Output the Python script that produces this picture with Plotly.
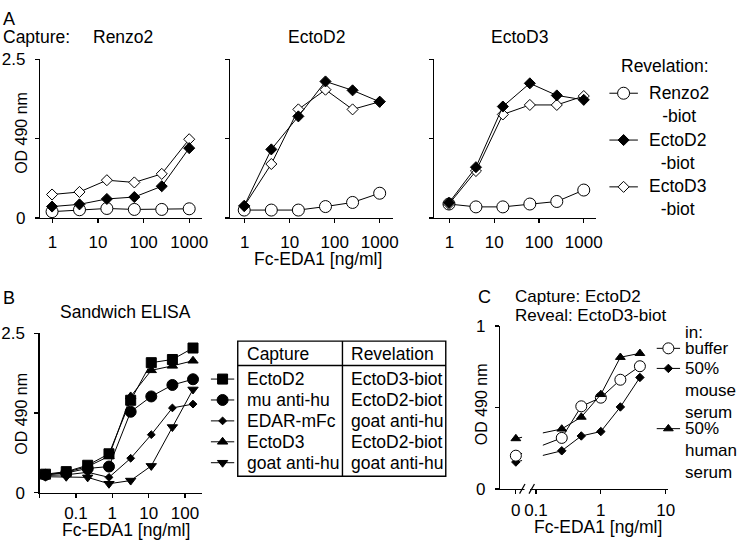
import plotly.graph_objects as go

W, H = 745, 549
FONT = "Liberation Sans, Arial, Helvetica, sans-serif"


def px(x):
    return x / W


def py(y):
    return 1 - y / H


# ---------------- data ----------------
# Panel A: capture antibody per sub-panel, revelation antibody per series
A_CAPTURES = ["Renzo2", "EctoD2", "EctoD3"]
A_REVEALS = ["Renzo2", "EctoD2", "EctoD3"]
A_CONC = [0.977, 3.91, 15.6, 62.5, 250, 1000]          # Fc-EDA1 ng/ml
A_X_TICKS = [1, 10, 100, 1000]
A_X_LABELS = ["1", "10", "100", "1000"]

# capture Renzo2
A_R2_REV_R2 = [0.10, 0.13, 0.15, 0.135, 0.135, 0.145]
A_R2_REV_D2 = [0.18, 0.215, 0.30, 0.33, 0.50, 1.10]
A_R2_REV_D3 = [0.37, 0.41, 0.595, 0.56, 0.695, 1.24]
# capture EctoD2
A_D2_REV_R2 = [0.125, 0.125, 0.125, 0.18, 0.245, 0.39]
A_D2_REV_D2 = [0.19, 1.08, 1.60, 2.15, 2.01, 1.83]
A_D2_REV_D3 = [0.19, 0.85, 1.71, 2.02, 1.71, 1.83]
# capture EctoD3
A_D3_REV_R2 = [0.22, 0.175, 0.175, 0.22, 0.26, 0.44]
A_D3_REV_D2 = [0.24, 0.80, 1.755, 2.12, 1.93, 1.86]
A_D3_REV_D3 = [0.22, 0.74, 1.63, 1.78, 1.78, 1.92]

A_VALUES = [
    [A_R2_REV_R2, A_R2_REV_D2, A_R2_REV_D3],
    [A_D2_REV_R2, A_D2_REV_D2, A_D2_REV_D3],
    [A_D3_REV_R2, A_D3_REV_D2, A_D3_REV_D3],
]
A_Y_TICKS = [0, 1.25, 2.5]
A_Y_LABELS = ["0", "", "2.5"]

# Panel B: sandwich ELISA
B_CONC = [0.0145, 0.054, 0.21, 0.81, 3.2, 11.8, 45, 166]
B_CAPTURE = ["EctoD2", "mu anti-hu", "EDAR-mFc", "EctoD3", "goat anti-hu"]
B_REVELATION = ["EctoD3-biot", "EctoD2-biot", "goat anti-hu", "EctoD2-biot", "goat anti-hu"]
B_ECTOD2 = [0.29, 0.33, 0.43, 0.61, 1.45, 2.04, 2.09, 2.27]
B_MU_ANTI_HU = [0.28, 0.31, 0.38, 0.41, 1.27, 1.51, 1.69, 1.78]
B_EDAR_MFC = [0.27, 0.28, 0.32, 0.24, 0.54, 0.91, 1.33, 1.39]
B_ECTOD3 = [0.28, 0.32, 0.41, 0.57, 1.51, 1.92, 1.99, 2.07]
B_GOAT_ANTI_HU = [0.25, 0.25, 0.24, 0.14, 0.19, 0.42, 1.03, 1.62]
B_VALUES = [B_ECTOD2, B_MU_ANTI_HU, B_EDAR_MFC, B_ECTOD3, B_GOAT_ANTI_HU]
B_X_TICKS = [0.01, 0.1, 1, 10, 100]
B_X_LABELS = ["", "0.1", "1", "10", "100"]

# Panel C: matrix effect (first value = no Fc-EDA1, drawn at the "0" break position)
C_ZERO_AT = 0.049
C_CONC = [C_ZERO_AT, 0.25, 0.5, 1, 2, 4]
C_LABELS = ["buffer", "50%<br>mouse<br>serum", "50%<br>human<br>serum"]
C_BUFFER = [0.205, 0.314, 0.508, 0.561, 0.671, 0.754]
C_MOUSE = [0.166, 0.235, 0.326, 0.353, 0.504, 0.685]
C_HUMAN = [0.31, 0.369, 0.442, 0.581, 0.809, 0.833]
C_VALUES = [C_BUFFER, C_MOUSE, C_HUMAN]
C_X_TICKS = [C_ZERO_AT, 0.1, 1, 10]
C_X_LABELS = ["0", "0.1", "1", "10"]
C_Y_TICKS = [0, 0.5, 1]
C_Y_LABELS = ["0", "", "1"]

# ---------------- styles ----------------
BLACK = "black"
A_STYLE = {
    "Renzo2": dict(symbol="circle", size=12, color="white"),
    "EctoD2": dict(symbol="diamond", size=8.5, color=BLACK),
    "EctoD3": dict(symbol="diamond", size=8.5, color="white"),
}
B_STYLE = [
    dict(symbol="square", size=10, color=BLACK),
    dict(symbol="circle", size=11, color=BLACK),
    dict(symbol="diamond", size=6, color=BLACK),
    dict(symbol="triangle-up", size=9, color=BLACK),
    dict(symbol="triangle-down", size=9, color=BLACK),
]
C_STYLE = [
    dict(symbol="circle", size=11, color="white"),
    dict(symbol="diamond", size=6.5, color=BLACK),
    dict(symbol="triangle-up", size=8.5, color=BLACK),
]


def marker(st):
    return dict(symbol=st["symbol"], size=st["size"], color=st["color"],
                line=dict(color=BLACK, width=1))


fig = go.Figure()

# ---------------- Panel A traces ----------------
A_ORDER = [0, 2, 1]  # draw Renzo2, EctoD3, then EctoD2 on top
for k in range(3):
    ax = "" if k == 0 else str(k + 1)
    for j in A_ORDER:
        fig.add_trace(go.Scatter(
            x=A_CONC, y=A_VALUES[k][j], mode="lines+markers",
            line=dict(color=BLACK, width=1), marker=marker(A_STYLE[A_REVEALS[j]]),
            xaxis="x" + ax, yaxis="y" + ax, cliponaxis=False, showlegend=False,
            hoverinfo="skip"))

# ---------------- Panel B traces ----------------
for i in [2, 4, 1, 3, 0]:
    fig.add_trace(go.Scatter(
        x=B_CONC, y=B_VALUES[i], mode="lines+markers",
        line=dict(color=BLACK, width=1), marker=marker(B_STYLE[i]),
        xaxis="x4", yaxis="y4", cliponaxis=False, showlegend=False, hoverinfo="skip"))

# ---------------- Panel C traces ----------------
for i in [1, 0, 2]:
    fig.add_trace(go.Scatter(
        x=C_CONC, y=C_VALUES[i], mode="lines+markers",
        line=dict(color=BLACK, width=1), marker=marker(C_STYLE[i]),
        xaxis="x5", yaxis="y5", cliponaxis=False, showlegend=False, hoverinfo="skip"))


# ---------------- legend keys (hidden axes, one row per series) ----------------
def add_key(row, st, xa, ya):
    fig.add_trace(go.Scatter(x=[0, 1], y=[row, row], mode="lines",
                             line=dict(color=BLACK, width=1), xaxis=xa, yaxis=ya,
                             showlegend=False, hoverinfo="skip", cliponaxis=False))
    fig.add_trace(go.Scatter(x=[0.5], y=[row], mode="markers", marker=marker(st),
                             xaxis=xa, yaxis=ya, showlegend=False, hoverinfo="skip",
                             cliponaxis=False))


for j, name in enumerate(A_REVEALS):
    add_key(j, A_STYLE[name], "x6", "y6")
for i in range(len(B_CAPTURE)):
    add_key(i, B_STYLE[i], "x7", "y7")
c_rows = []
line_idx = 0
for lab in C_LABELS:
    c_rows.append(line_idx)
    line_idx += lab.count("<br>") + 1
for i, r in enumerate(c_rows):
    add_key(r, C_STYLE[i], "x8", "y8")

# ---------------- axes ----------------
tickfont = dict(family=FONT, size=17, color=BLACK)
common = dict(showline=True, linecolor=BLACK, linewidth=1.3, ticks="outside",
              ticklen=4, tickwidth=1.3, tickcolor=BLACK, showgrid=False,
              zeroline=False, tickfont=tickfont, fixedrange=True, tickmode="array")

A_XDOM = [(40.5, 204), (232, 397), (438.5, 602)]
A_XRANGE = [(-0.272, 3.283), (-0.330, 3.302), (-0.336, 3.281)]
layout = dict(
    width=W, height=H, margin=dict(l=0, r=0, t=0, b=0),
    paper_bgcolor="white", plot_bgcolor="rgba(0,0,0,0)",
    font=dict(family=FONT, color=BLACK), showlegend=False,
)
for k in range(3):
    s = "" if k == 0 else str(k + 1)
    layout["xaxis" + s] = dict(common, type="log", domain=[px(A_XDOM[k][0]), px(A_XDOM[k][1])],
                               range=list(A_XRANGE[k]), tickvals=A_X_TICKS,
                               ticktext=A_X_LABELS, anchor="y" + s, ticklabelstandoff=4)
    layout["yaxis" + s] = dict(common, domain=[py(216.5), py(52)], range=[0, 2.5],
                               tickvals=A_Y_TICKS, ticktext=A_Y_LABELS, anchor="x" + s,
                               showticklabels=(k == 0), ticklabelstandoff=6)

layout["xaxis4"] = dict(common, type="log", domain=[px(40), px(204)], range=[-2, 2.47],
                        tickvals=B_X_TICKS, ticktext=B_X_LABELS, anchor="y4",
                        ticklabelstandoff=1)
layout["yaxis4"] = dict(common, domain=[py(501), py(336)], range=[0, 2.5],
                        tickvals=A_Y_TICKS, ticktext=A_Y_LABELS, anchor="x4",
                        ticklabelstandoff=6)
layout["xaxis5"] = dict(common, type="log", domain=[px(505), px(674)], range=[-1.55, 1.03],
                        tickvals=C_X_TICKS, ticktext=C_X_LABELS, anchor="y5",
                        ticklabelstandoff=1)
layout["yaxis5"] = dict(common, domain=[py(497.3), py(328.5)], range=[0, 1],
                        tickvals=C_Y_TICKS, ticktext=C_Y_LABELS, anchor="x5",
                        ticklabelstandoff=6)

hidden = dict(visible=False, fixedrange=True)
layout["xaxis6"] = dict(hidden, domain=[px(615), px(644)], range=[0, 1], anchor="y6")
layout["yaxis6"] = dict(hidden, domain=[py(208.5), py(63)], range=[2.5, -0.5], anchor="x6")
layout["xaxis7"] = dict(hidden, domain=[px(212.7), px(236.7)], range=[0, 1], anchor="y7")
layout["yaxis7"] = dict(hidden, domain=[py(480.8), py(372.5)], range=[4.5, -0.5], anchor="x7")
layout["xaxis8"] = dict(hidden, domain=[px(662.7), px(686.7)], range=[0, 1], anchor="y8")
layout["yaxis8"] = dict(hidden, domain=[py(486.7), py(341.1)], range=[6.5, -0.5], anchor="x8")

fig.update_layout(**layout)

# ---------------- annotations ----------------
ann = []


def text(t, x, y, size=17.5, xanchor="left", angle=0, align="left", yref="paper", yv=None,
         yshift=0):
    ann.append(dict(text=t, x=px(x), xref="paper",
                    y=(py(y) if yref == "paper" else yv), yref=yref,
                    xanchor=xanchor, yanchor="middle", showarrow=False,
                    textangle=angle, align=align, yshift=yshift,
                    font=dict(family=FONT, size=size, color=BLACK)))


# Panel A
text("A", 1, 10, size=18)
text("Capture:", 1, 28.5)
for name, cx in zip(A_CAPTURES, [124, 320, 524]):
    text(name, cx, 28.5, xanchor="center")
text("Revelation:", 671, 59.3, xanchor="center")
for j, name in enumerate(A_REVEALS):
    text(name + "<br>-biot", 653, 0, yref="y6", yv=j, align="center", yshift=-11)
text("OD 490 nm", 21.5, 128, size=16, xanchor="center", angle=-90)
text("Fc-EDA1 [ng/ml]", 321, 259, xanchor="center")

# Panel B
text("B", 1, 299, size=18)
text("Sandwich ELISA", 127, 314, xanchor="center")
text("OD 490 nm", 21.5, 419, size=16, xanchor="center", angle=-90)
text("Fc-EDA1 [ng/ml]", 127, 540, xanchor="center")
TBL_L, TBL_R, TBL_MID, TBL_T, TBL_HDR, TBL_B = 240, 450, 345.7, 344, 369.3, 484
text("Capture", TBL_L + 7, 357.3)
text("Revelation", TBL_MID + 6.5, 357.3)
for i, (cap, rev) in enumerate(zip(B_CAPTURE, B_REVELATION)):
    text(cap, TBL_L + 7, 0, yref="y7", yv=i)
    text(rev, TBL_MID + 6.5, 0, yref="y7", yv=i)

# Panel C
text("C", 480.5, 298, size=18)
text("Capture: EctoD2", 518, 298, size=17)
text("Reveal: EctoD3-biot", 518, 317.5, size=17)
text("in:", 689, 334.7, size=17)
for i, lab in enumerate(C_LABELS):
    n = lab.count("<br>")
    text(lab, 689, 0, size=17, yref="y8", yv=c_rows[i], yshift=-11 * n)
text("OD 490 nm", 486, 409, size=16, xanchor="center", angle=-90)
text("Fc-EDA1 [ng/ml]", 604, 537, xanchor="center")

fig.update_layout(annotations=ann)

# ---------------- shapes (table borders, axis break) ----------------
shapes = []


def seg(x0, y0, x1, y1, w=1.3, color=BLACK):
    shapes.append(dict(type="line", xref="paper", yref="paper", x0=px(x0), y0=py(y0),
                       x1=px(x1), y1=py(y1), line=dict(color=color, width=w), layer="above"))


def box(x0, y0, x1, y1, fill="white", w=0, color=BLACK):
    shapes.append(dict(type="rect", xref="paper", yref="paper", x0=px(x0), y0=py(y0),
                       x1=px(x1), y1=py(y1), fillcolor=fill,
                       line=dict(width=w, color=color), layer="above"))


# table
shapes.append(dict(type="rect", xref="paper", yref="paper", x0=px(TBL_L), y0=py(TBL_B),
                   x1=px(TBL_R), y1=py(TBL_T), line=dict(color=BLACK, width=1.4),
                   layer="above"))
seg(TBL_L, TBL_HDR, TBL_R, TBL_HDR, w=1.4)
seg(TBL_MID, TBL_T, TBL_MID, TBL_B, w=1.4)

# axis break in panel C
box(527, 420, 548, 493)
box(529.5, 493, 535, 501)
seg(524.5, 502, 530, 492, w=1.2)
seg(534, 502, 539.5, 492, w=1.2)

fig.update_layout(shapes=shapes)

fig.write_html("out.html", config={"displayModeBar": False, "staticPlot": True},
               post_script="document.body.style.margin='0px';")
